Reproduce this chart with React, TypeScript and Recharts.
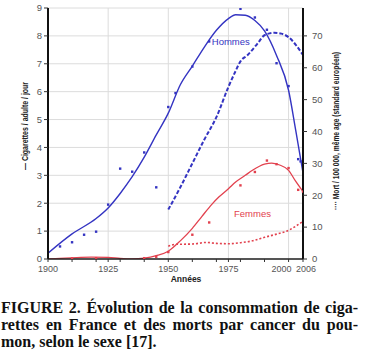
import React from 'react';
import {
  ComposedChart,
  Line,
  Scatter,
  XAxis,
  YAxis,
  CartesianGrid,
  ReferenceDot,
  Customized,
} from 'recharts';

const BLUE = '#3434c2';
const RED = '#e2414e';

// Axis ticks
const xTicks = [1900, 1910, 1920, 1925, 1930, 1940, 1950, 1960, 1970, 1975, 1980, 1990, 2000, 2006];
const xLabelTicks = [1900, 1925, 1950, 1975, 2000, 2006];
const xGridYears = [1925, 1950, 1975, 2000];
const leftTicks = [0, 1, 2, 3, 4, 5, 6, 7, 8, 9];
const rightTicks = [0, 10, 20, 30, 40, 50, 60, 70];

// Men: cigarettes / adult / day (smoothed curve)
const menCigCurveYears = [1900, 1910, 1920, 1925, 1930, 1935, 1940, 1945, 1950, 1955, 1960, 1965, 1970, 1975, 1978, 1982, 1986, 1990, 1995, 2000, 2003, 2006];
const menCigCurveValues = [0.21, 0.9, 1.45, 1.83, 2.35, 2.95, 3.65, 4.45, 5.23, 6.25, 6.92, 7.6, 8.2, 8.62, 8.76, 8.74, 8.55, 8.18, 7.3, 6.05, 4.6, 3.09];

// Men: cigarettes observed points
const menCigPointYears = [1905, 1910, 1915, 1920, 1925, 1930, 1935, 1940, 1945, 1950, 1953, 1960, 1967, 1980, 1986, 1991, 1995, 2000, 2004, 2005];
const menCigPointValues = [0.45, 0.6, 0.87, 0.98, 1.95, 3.24, 3.13, 3.82, 2.57, 5.45, 5.95, 6.9, 7.8, 8.97, 8.66, 8.22, 7.02, 6.2, 3.58, 3.5];

// Women: cigarettes / adult / day (smoothed curve)
const womenCigCurveYears = [1900, 1905, 1912, 1918, 1925, 1930, 1935, 1940, 1945, 1950, 1955, 1960, 1964, 1968, 1971, 1975, 1978, 1982, 1985, 1990, 1993, 1996, 2000, 2003, 2006];
const womenCigCurveValues = [0, 0.02, 0.05, 0.07, 0.06, 0.02, 0.0, 0.03, 0.12, 0.28, 0.65, 1.1, 1.53, 1.95, 2.22, 2.52, 2.76, 3.0, 3.18, 3.4, 3.44, 3.38, 3.18, 2.78, 2.42];

// Women: cigarettes observed points
const womenCigPointYears = [1910, 1920, 1940, 1945, 1950, 1960, 1967, 1980, 1986, 1991, 1995, 2000, 2004, 2006];
const womenCigPointValues = [0.02, 0.03, 0.03, 0.08, 0.25, 0.87, 1.31, 2.64, 3.12, 3.53, 3.4, 3.26, 2.48, 2.42];

// Men: lung cancer deaths / 100 000
const menDeathYears = [1950, 1955, 1960, 1965, 1970, 1975, 1978, 1980, 1983, 1987, 1990, 1994, 1997, 2000, 2003, 2006];
const menDeathValues = [15.5, 22.5, 30, 37.5, 44.5, 54, 59, 62, 64, 67.5, 70.2, 71, 70.7, 69.6, 67.2, 64];

// Women: lung cancer deaths / 100 000
const womenDeathYears = [1950, 1953, 1960, 1966, 1970, 1975, 1980, 1985, 1990, 1995, 2000, 2003, 2006];
const womenDeathValues = [4.0, 4.6, 4.7, 5.2, 4.9, 4.8, 5.1, 5.7, 6.8, 7.8, 9.0, 10.3, 11.8];

const zip = (years: number[], values: number[]) => years.map((year, i) => ({ year, v: values[i] }));

const menCigCurve = zip(menCigCurveYears, menCigCurveValues);
const menCigPoints = zip(menCigPointYears, menCigPointValues);
const womenCigCurve = zip(womenCigCurveYears, womenCigCurveValues);
const womenCigPoints = zip(womenCigPointYears, womenCigPointValues);
const menDeaths = zip(menDeathYears, menDeathValues);
const womenDeaths = zip(womenDeathYears, womenDeathValues);

const FONT = '"Liberation Sans", Arial, sans-serif';

const squareShape = (color: string) => (props: any) => {
  const { cx, cy } = props;
  if (cx == null || cy == null) return null;
  return <rect x={cx - 1.2} y={cy - 1.2} width={2.4} height={2.4} fill={color} />;
};

const XTick = (props: any) => {
  const { x, y, payload } = props;
  const val = payload.value;
  if (!xLabelTicks.includes(val)) return null;
  let dx = 0;
  if (val === 2000) dx = -7;
  if (val === 2006) dx = 3;
  return (
    <text x={x + dx} y={y + 8} textAnchor="middle" fontSize={9} fill="#555" fontFamily={FONT}>
      {val}
    </text>
  );
};

const Titles = () => (
  <g>
    <text
      transform="translate(28,126) rotate(-90)"
      textAnchor="middle"
      fontSize={8.5}
      fontWeight="bold"
      fill="#222"
      fontFamily={FONT}
      textLength={88}
      lengthAdjust="spacingAndGlyphs"
    >
      — Cigarettes / adulte / jour
    </text>
    <text
      transform="translate(339,131) rotate(-90)"
      textAnchor="middle"
      fontSize={8.5}
      fontWeight="bold"
      fill="#222"
      fontFamily={FONT}
      textLength={158}
      lengthAdjust="spacingAndGlyphs"
    >
      ···· Mort / 100 000, même age (standard européen)
    </text>
    <text x={186} y={282} textAnchor="middle" fontSize={8.5} fontWeight="bold" fill="#222" fontFamily={FONT}>
      Années
    </text>
  </g>
);

const captionLine: React.CSSProperties = {
  position: 'absolute',
  left: 1,
  width: 357,
  fontFamily: '"Liberation Serif", "Times New Roman", serif',
  fontWeight: 'bold',
  fontSize: 16,
  lineHeight: '17px',
  color: '#111',
  whiteSpace: 'nowrap',
};

export default function App() {
  return (
    <div style={{ position: 'absolute', left: 0, top: 0, width: 365, height: 358, background: '#fff' }}>
      <ComposedChart
        width={365}
        height={290}
        margin={{ top: 8, right: 0, bottom: 0, left: 0 }}
      >
        <CartesianGrid
          yAxisId="l"
          stroke="#dcdcdc"
          strokeWidth={1}
          verticalValues={xGridYears}
          horizontalValues={leftTicks}
        />
        <XAxis
          type="number"
          dataKey="year"
          domain={[1900, 2006]}
          ticks={xTicks}
          interval={0}
          height={31}
          tick={<XTick />}
          tickSize={3}
          tickLine={{ stroke: '#333' }}
          axisLine={{ stroke: '#222', strokeWidth: 1.5 }}
          allowDataOverflow
        />
        <YAxis
          yAxisId="l"
          orientation="left"
          width={48}
          domain={[0, 9]}
          ticks={leftTicks}
          interval={0}
          tickSize={4}
          tickMargin={2}
          tick={{ fontSize: 9.5, fill: '#555', fontFamily: FONT }}
          tickLine={{ stroke: '#333' }}
          axisLine={{ stroke: '#111', strokeWidth: 2 }}
          allowDataOverflow
        />
        <YAxis
          yAxisId="r"
          orientation="right"
          width={62}
          domain={[0, 78.75]}
          ticks={rightTicks}
          interval={0}
          tickSize={4}
          tickMargin={5}
          tick={{ fontSize: 9.5, fill: '#555', fontFamily: FONT }}
          tickLine={{ stroke: '#333' }}
          axisLine={{ stroke: '#111', strokeWidth: 2 }}
          allowDataOverflow
        />
        <Line
          yAxisId="r"
          data={menDeaths}
          dataKey="v"
          type="monotone"
          stroke={BLUE}
          strokeWidth={2}
          strokeDasharray="4 2"
          dot={false}
          isAnimationActive={false}
        />
        <Line
          yAxisId="r"
          data={womenDeaths}
          dataKey="v"
          type="monotone"
          stroke={RED}
          strokeWidth={1.6}
          strokeDasharray="2 2"
          dot={false}
          isAnimationActive={false}
        />
        <Line
          yAxisId="l"
          data={womenCigCurve}
          dataKey="v"
          type="monotone"
          stroke={RED}
          strokeWidth={1.3}
          dot={false}
          isAnimationActive={false}
        />
        <Line
          yAxisId="l"
          data={menCigCurve}
          dataKey="v"
          type="monotone"
          stroke={BLUE}
          strokeWidth={1.4}
          dot={false}
          isAnimationActive={false}
        />
        <Scatter
          yAxisId="l"
          data={womenCigPoints}
          dataKey="v"
          shape={squareShape(RED)}
          isAnimationActive={false}
        />
        <Scatter
          yAxisId="l"
          data={menCigPoints}
          dataKey="v"
          shape={squareShape(BLUE)}
          isAnimationActive={false}
        />
        <ReferenceDot
          yAxisId="l"
          x={1976}
          y={7.8}
          r={0}
          fill="none"
          stroke="none"
          label={{ value: 'Hommes', fill: BLUE, fontSize: 9.5, position: 'center', fontFamily: FONT }}
        />
        <ReferenceDot
          yAxisId="l"
          x={1985}
          y={1.62}
          r={0}
          fill="none"
          stroke="none"
          label={{ value: 'Femmes', fill: RED, fontSize: 9.5, position: 'center', fontFamily: FONT }}
        />
        <Customized component={Titles} />
      </ComposedChart>
      <div style={{ ...captionLine, top: 299, textAlign: 'justify', textAlignLast: 'justify' }}>
        FIGURE 2. Évolution de la consommation de ciga-
      </div>
      <div style={{ ...captionLine, top: 316, textAlign: 'justify', textAlignLast: 'justify' }}>
        rettes en France et des morts par cancer du pou-
      </div>
      <div style={{ ...captionLine, top: 333 }}>
        mon, selon le sexe [17].
      </div>
    </div>
  );
}
